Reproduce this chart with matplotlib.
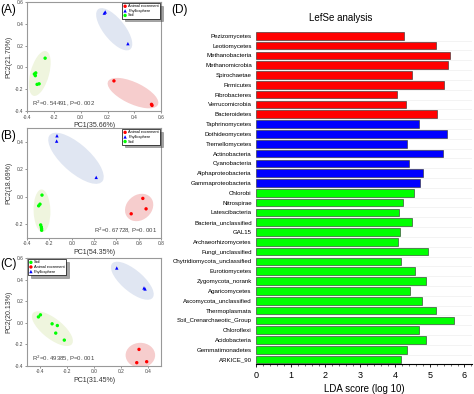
import numpy as np
import matplotlib
matplotlib.use("Agg")
import matplotlib.pyplot as plt
from matplotlib.patches import Ellipse

plt.rcParams['font.family'] = ['Liberation Sans', 'DejaVu Sans']

# ---- PCoA panels (A), (B), (C) ----
a_red_x = [0.248, 0.528, 0.532]
a_red_y = [-0.123, -0.338, -0.348]
a_blue_x = [0.176, 0.183, 0.352]
a_blue_y = [0.498, 0.508, 0.218]
a_green_x = [-0.345, -0.335, -0.338, -0.325, -0.31, -0.265]
a_green_y = [-0.06, -0.05, -0.075, -0.155, -0.15, 0.085]

b_red_x = [0.636, 0.665, 0.532]
b_red_y = [-0.012, -0.088, -0.124]
b_blue_x = [-0.132, -0.135, 0.219]
b_blue_y = [0.444, 0.405, 0.141]
b_green_x = [-0.266, -0.284, -0.296, -0.278, -0.272, -0.269, -0.27]
b_green_y = [0.012, -0.054, -0.066, -0.205, -0.22, -0.244, -0.232]

c_red_x = [0.335, 0.318, 0.392]
c_red_y = [-0.246, -0.369, -0.36]
c_blue_x = [0.169, 0.372, 0.380]
c_blue_y = [0.508, 0.323, 0.314]
c_green_x = [-0.415, -0.40, -0.313, -0.274, -0.286, -0.222]
c_green_y = [0.055, 0.074, -0.009, -0.025, -0.095, -0.16]

# ellipses: (cx, cy, width, height, angle) for red, blue, green
a_ell = [(0.39, -0.235, 0.43, 0.19, -32), (0.25, 0.35, 0.44, 0.17, -59), (-0.305, -0.055, 0.42, 0.14, 78)]
b_ell = [(0.603, -0.078, 0.26, 0.19, 20), (0.038, 0.28, 0.58, 0.22, -34), (-0.266, -0.102, 0.31, 0.15, 92)]
c_ell = [(0.345, -0.30, 0.22, 0.23, 0), (0.285, 0.39, 0.44, 0.18, -49), (-0.311, -0.054, 0.41, 0.17, -47)]

# ---- LEfSe panel (D) ----
taxa = ["Pezizomycetes", "Leotiomycetes", "Methanobacteria", "Methanomicrobia", "Spirochaetae",
        "Firmicutes", "Fibrobacteres", "Verrucomicrobia", "Bacteroidetes",
        "Taphrinomycetes", "Dothideomycetes", "Tremellomycetes", "Actinobacteria", "Cyanobacteria",
        "Alphaproteobacteria", "Gammaproteobacteria",
        "Chlorobi", "Nitrospirae", "Latescibacteria", "Bacteria_unclassified", "GAL15",
        "Archaeorhizomycetes", "Fungi_unclassified", "Chytridiomycota_unclassified", "Eurotiomycetes",
        "Zygomycota_norank", "Agaricomycetes", "Ascomycota_unclassified", "Thermoplasmata",
        "Soil_Crenarchaeotic_Group", "Chloroflexi", "Acidobacteria", "Gemmatimonadetes", "ARKICE_90"]
lda = [4.27, 5.18, 5.57, 5.53, 4.50, 5.42, 4.05, 4.32, 5.20,
       4.69, 5.51, 4.34, 5.39, 4.40, 4.80, 4.73,
       4.56, 4.22, 4.11, 4.48, 4.15, 4.09, 4.95, 4.17, 4.57,
       4.90, 4.42, 4.78, 5.17, 5.70, 4.69, 4.88, 4.34, 4.17]
group = ["Animal excrement"] * 9 + ["Phyllosphere"] * 7 + ["Soil"] * 18

col = {"Animal excrement": "#ff0000", "Phyllosphere": "#0000ff", "Soil": "#00ff00"}
ell_col = ["#f6cdcd", "#e0e6f2", "#eff5de"]

fig = plt.figure(figsize=(4.74, 3.94), dpi=100)


def pcoa(rect, pts, ells, xlim, ylim, xt, yt, xlab, ylab, txt, txt_pos, order, leg_loc):
    ax = fig.add_axes(rect)
    for (cx, cy, w, h, ang), c in zip(ells, ell_col):
        ax.add_patch(Ellipse((cx, cy), w, h, angle=ang, facecolor=c, edgecolor='none', zorder=1))
    names = ["Animal excrement", "Phyllosphere", "Soil"]
    marks = {"Animal excrement": 'o', "Phyllosphere": '^', "Soil": 'o'}
    handles = {}
    for nm, (x, y) in zip(names, pts):
        handles[nm] = ax.scatter(x, y, s=6, marker=marks[nm], color=col[nm], zorder=3,
                                 edgecolors='none', label=nm)
    ax.set_xlim(xlim)
    ax.set_ylim(ylim)
    ax.set_xticks(xt)
    ax.set_yticks(yt)
    ax.set_xticklabels(["%.1f" % v for v in xt])
    ax.set_yticklabels(["%.1f" % v for v in yt])
    ax.tick_params(labelsize=3.5, length=1.5, width=0.4, colors='#444444', pad=1)
    for s in ax.spines.values():
        s.set_color('#999999')
        s.set_linewidth(0.8)
    ax.set_xlabel(xlab, fontsize=5, labelpad=2, color='#333333')
    ax.set_ylabel(ylab, fontsize=5, labelpad=2, color='#333333')
    ax.text(txt_pos[0], txt_pos[1], txt, transform=ax.transAxes, fontsize=4.3,
            ha=txt_pos[2], va='bottom', color='#444444')
    leg = ax.legend([handles[n] for n in order], order, loc=leg_loc, fontsize=2.8,
                    frameon=True, fancybox=False, shadow=True, borderpad=0.3,
                    handlelength=0.8, handletextpad=0.4, labelspacing=0.15,
                    markerscale=1.0, borderaxespad=0.3)
    leg.get_frame().set_edgecolor('black')
    leg.get_frame().set_linewidth(0.5)
    return ax


pcoa([0.057, 0.718, 0.283, 0.277],
     [(a_red_x, a_red_y), (a_blue_x, a_blue_y), (a_green_x, a_green_y)], a_ell,
     (-0.4, 0.6), (-0.4, 0.6), np.arange(-0.4, 0.61, 0.2), np.arange(-0.4, 0.61, 0.2),
     "PC1(35.66%)", "PC2(21.70%)", "R$^2$=0. 54491, P=0. 002", (0.04, 0.03, 'left'),
     ["Animal excrement", "Phyllosphere", "Soil"], 'upper right')

pcoa([0.057, 0.396, 0.283, 0.279],
     [(b_red_x, b_red_y), (b_blue_x, b_blue_y), (b_green_x, b_green_y)], b_ell,
     (-0.4, 0.8), (-0.3, 0.5), np.arange(-0.4, 0.81, 0.2), np.arange(-0.2, 0.41, 0.2),
     "PC1(54.35%)", "PC2(18.69%)", "R$^2$=0. 67728, P=0. 001", (0.97, 0.03, 'right'),
     ["Animal excrement", "Phyllosphere", "Soil"], 'upper right')

pcoa([0.057, 0.071, 0.283, 0.274],
     [(c_red_x, c_red_y), (c_blue_x, c_blue_y), (c_green_x, c_green_y)], c_ell,
     (-0.5, 0.5), (-0.4, 0.6), np.arange(-0.4, 0.41, 0.2), np.arange(-0.4, 0.61, 0.2),
     "PC1(31.45%)", "PC2(20.13%)", "R$^2$=0. 49385, P=0. 001", (0.04, 0.03, 'left'),
     ["Soil", "Animal excrement", "Phyllosphere"], 'upper left')

# LEfSe bars
axd = fig.add_axes([0.540, 0.0749, 0.456, 0.846])
ypos = np.arange(len(taxa))
axd.barh(ypos, lda, height=0.78, color=[col[g] for g in group],
         edgecolor='#2a2a2a', linewidth=0.4, zorder=2)
axd.set_ylim(len(taxa) - 0.5, -0.47)
axd.set_xlim(0, 6.22)
axd.set_yticks(ypos)
axd.set_yticklabels(taxa, fontsize=4.4)
axd.set_yticks(ypos + 0.5, minor=True)
axd.grid(axis='y', which='minor', color='#eeeeee', linewidth=0.5, zorder=0)
axd.tick_params(axis='y', which='both', length=0, pad=3)
axd.set_xticks(range(7))
axd.set_xticks(np.arange(0, 6.21, 0.2), minor=True)
axd.tick_params(axis='x', which='major', labelsize=6.5, length=2.5, width=0.6, pad=2)
axd.tick_params(axis='x', which='minor', length=1.2, width=0.4)
for s in ['top', 'right', 'left']:
    axd.spines[s].set_visible(False)
axd.spines['bottom'].set_linewidth(0.8)
axd.set_xlabel("LDA score (log 10)", fontsize=7, labelpad=3)
fig.text(0.718, 0.955, "LefSe analysis", fontsize=7, ha='center', va='center')

# panel letters
for lab, x, y in [("(A)", 0.0, 0.975), ("(B)", 0.0, 0.655), ("(C)", 0.0, 0.33), ("(D)", 0.362, 0.975)]:
    fig.text(x, y, lab, fontsize=8.5, ha='left', va='center')

fig.savefig("out.png", dpi=100)
